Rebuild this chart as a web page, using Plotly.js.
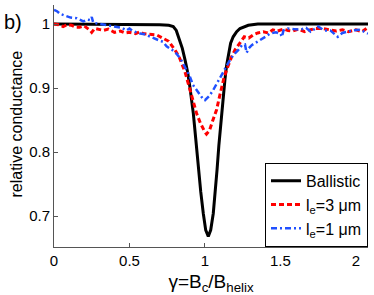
<!DOCTYPE html>
<html>
<head>
<meta charset="utf-8">
<script src="https://cdn.plot.ly/plotly-3.0.1.min.js"></script>
<style>html,body{margin:0;padding:0;background:#fff;}#plot{width:374px;height:295px;}</style>
</head>
<body>
<div id="plot"></div>
<script>
// Ballistic (black solid)
const ballisticX = [0, 0.3, 0.6, 0.7, 0.76, 0.79, 0.81, 0.834, 0.85, 0.868, 0.885, 0.9, 0.923, 0.94, 0.956, 0.972, 0.989, 1.005, 1.022, 1.038, 1.055, 1.068, 1.08, 1.092, 1.104, 1.11, 1.12, 1.132, 1.143, 1.155, 1.17, 1.187, 1.21, 1.232, 1.26, 1.287, 1.35, 1.5, 2.08];
const ballisticY = [1, 1, 1, 0.999, 0.998, 0.996, 0.99, 0.975, 0.962, 0.944, 0.925, 0.902, 0.86, 0.818, 0.772, 0.738, 0.704, 0.678, 0.668, 0.678, 0.704, 0.735, 0.772, 0.81, 0.845, 0.86, 0.888, 0.9125, 0.935, 0.954, 0.97, 0.98, 0.988, 0.993, 0.996, 0.998, 1, 1, 1];

// l_e = 3 um (red dashed)
const le3X = [0, 0.03, 0.06, 0.09, 0.117, 0.145, 0.17, 0.2, 0.24, 0.25, 0.27, 0.3, 0.327, 0.36, 0.4, 0.44, 0.47, 0.5, 0.54, 0.57, 0.59, 0.63, 0.68, 0.72, 0.746, 0.76, 0.8, 0.83, 0.868, 0.9, 0.92, 0.945, 0.97, 0.99, 1.0, 1.01, 1.02, 1.03, 1.05, 1.077, 1.095, 1.11, 1.125, 1.143, 1.16, 1.177, 1.2, 1.232, 1.254, 1.26, 1.29, 1.32, 1.35, 1.386, 1.42, 1.45, 1.48, 1.52, 1.55, 1.58, 1.62, 1.66, 1.7, 1.73, 1.78, 1.83, 1.87, 1.91, 1.95, 2.0, 2.04, 2.07];
const le3Y = [1.0, 0.999, 0.996, 0.999, 0.998, 0.995, 0.995, 0.997, 0.99, 0.987, 0.993, 0.991, 0.99, 0.992, 0.987, 0.989, 0.986, 0.987, 0.985, 0.988, 0.985, 0.984, 0.983, 0.978, 0.975, 0.973, 0.96, 0.948, 0.925, 0.898, 0.88, 0.86, 0.845, 0.835, 0.831, 0.828, 0.832, 0.834, 0.848, 0.866, 0.885, 0.902, 0.915, 0.928, 0.94, 0.949, 0.96, 0.97, 0.978, 0.98, 0.978, 0.983, 0.986, 0.988, 0.986, 0.991, 0.989, 0.992, 0.99, 0.989, 0.992, 0.988, 0.991, 0.993, 0.993, 0.991, 0.989, 0.991, 0.988, 0.991, 0.988, 0.993];

// l_e = 1 um (blue dash-dot)
const le1X = [0, 0.02, 0.04, 0.06, 0.084, 0.11, 0.15, 0.175, 0.194, 0.22, 0.24, 0.25, 0.26, 0.283, 0.31, 0.34, 0.38, 0.415, 0.45, 0.48, 0.5, 0.52, 0.57, 0.6, 0.636, 0.69, 0.724, 0.746, 0.78, 0.81, 0.84, 0.868, 0.9, 0.92, 0.945, 0.97, 0.99, 1.0, 1.01, 1.03, 1.055, 1.08, 1.11, 1.14, 1.166, 1.19, 1.22, 1.245, 1.265, 1.276, 1.29, 1.31, 1.34, 1.364, 1.4, 1.43, 1.47, 1.5, 1.51, 1.52, 1.55, 1.59, 1.63, 1.67, 1.7, 1.75, 1.79, 1.83, 1.86, 1.88, 1.91, 1.94, 1.98, 2.03, 2.06, 2.08];
const le1Y = [1.022, 1.02, 1.016, 1.014, 1.0125, 1.01, 1.009, 1.006, 1.004, 1.007, 1.006, 1.011, 1.002, 1.001, 1.0, 0.998, 0.997, 0.995, 0.994, 0.99, 0.993, 0.989, 0.985, 0.984, 0.98, 0.975, 0.972, 0.965, 0.96, 0.954, 0.945, 0.933, 0.918, 0.905, 0.897, 0.888, 0.882, 0.881, 0.883, 0.888, 0.897, 0.908, 0.92, 0.935, 0.944, 0.952, 0.959, 0.967, 0.968, 0.955, 0.962, 0.967, 0.971, 0.975, 0.98, 0.985, 0.987, 0.985, 0.98, 0.99, 0.993, 0.992, 0.991, 0.994, 0.988, 0.996, 0.99, 0.99, 0.984, 0.98, 0.986, 0.988, 0.99, 0.991, 0.988, 0.985];

const seriesNames = ['Ballistic', 'l<sub>e</sub>=3 μm', 'l<sub>e</sub>=1 μm'];
const xTicks = [0, 0.5, 1, 1.5, 2];
const xTickLabels = ['0', '0.5', '1', '1.5', '2'];
const yTicks = [0.7, 0.8, 0.9, 1];
const yTickLabels = ['0.7', '0.8', '0.9', '1'];

const FONT = 'Liberation Sans, Arial, Helvetica, sans-serif';
const axisColor = '#555';

const traces = [
  {x: ballisticX, y: ballisticY, name: seriesNames[0], mode: 'lines',
   line: {color: '#000', width: 3}},
  {x: le3X, y: le3Y, name: seriesNames[1], mode: 'lines',
   line: {color: '#ff0000', width: 3, dash: '5px,3px'}},
  {x: le1X, y: le1Y, name: seriesNames[2], mode: 'lines',
   line: {color: '#2050ff', width: 2.5, dash: '6px,3px,2px,3px'}}
];

const layout = {
  width: 374, height: 295,
  margin: {l: 54, r: 6, t: 5, b: 48},
  paper_bgcolor: '#fff', plot_bgcolor: '#fff',
  font: {family: FONT, color: '#000', size: 15},
  showlegend: true,
  xaxis: {
    range: [0, 2.08], tickvals: xTicks, ticktext: xTickLabels,
    showline: true, linecolor: axisColor, linewidth: 1,
    ticks: 'inside', ticklen: 4, tickcolor: axisColor,
    showgrid: false, zeroline: false, mirror: false,
    tickfont: {size: 15, family: FONT},
    title: {text: 'γ=B<sub>c</sub>/B<sub>helix</sub>', font: {size: 19, family: FONT}, standoff: 7}
  },
  yaxis: {
    range: [0.6516, 1.0297], tickvals: yTicks, ticktext: yTickLabels,
    showline: true, linecolor: axisColor, linewidth: 1,
    ticks: 'inside', ticklen: 4, tickcolor: axisColor,
    showgrid: false, zeroline: false, mirror: false,
    tickfont: {size: 15, family: FONT}
  },
  legend: {
    x: 1.0, y: 0.348, xanchor: 'right', yanchor: 'top',
    bgcolor: '#fff', bordercolor: '#000', borderwidth: 1,
    font: {size: 16, family: FONT}
  },
  annotations: [
    {text: 'b)', xref: 'paper', yref: 'paper', x: -0.166, y: 0.93,
     xanchor: 'left', yanchor: 'middle', showarrow: false,
     font: {size: 20, family: FONT, color: '#000'}},
    {text: 'relative conductance', xref: 'paper', yref: 'paper', x: -0.118, y: 0.51,
     xanchor: 'center', yanchor: 'middle', textangle: -90, showarrow: false,
     font: {size: 16, family: FONT, color: '#000'}}
  ]
};

Plotly.newPlot('plot', traces, layout, {staticPlot: true, displayModeBar: false});
</script>
</body>
</html>
